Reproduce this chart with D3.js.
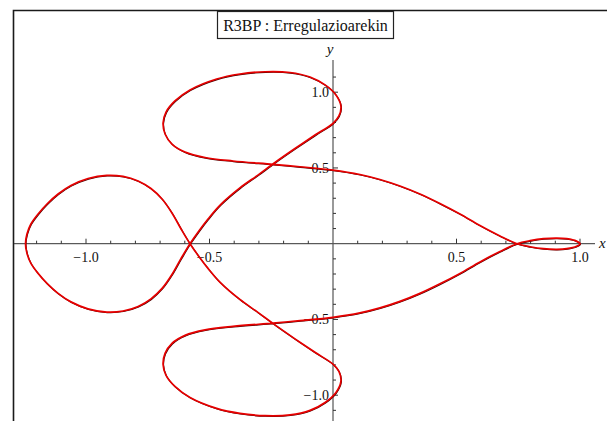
<!DOCTYPE html>
<html>
<head>
<meta charset="utf-8">
<script src="https://cdn.jsdelivr.net/npm/d3@7"></script>
<style>
  html, body { margin: 0; padding: 0; background: #fff; }
  svg { display: block; }
  text { font-family: "Liberation Serif", "Times New Roman", serif; }
</style>
</head>
<body>
<svg id="chart" width="607" height="421"></svg>
<script>
// Closed orbit of the regularized restricted three-body problem, traced in order:
// small loop, upper branch, upper loop, diagonal, left loop, lower loop, lower branch.
const orbitX = [
  1.000, 0.986, 0.946, 0.906, 0.852, 0.798, 0.745, 0.676, 0.595, 0.514, 0.433, 0.352,
  0.271, 0.190, 0.109, 0.000, -0.134, -0.243, -0.405, -0.518, -0.599, -0.652, -0.680,
  -0.688, -0.676, -0.640, -0.579, -0.471, -0.377, -0.275, -0.174, -0.093, -0.032, 0.012,
  0.032, 0.024, 0.000, -0.073, -0.154, -0.235, -0.304, -0.377, -0.457, -0.506, -0.543,
  -0.579, -0.615, -0.652, -0.692, -0.737, -0.789, -0.850, -0.916, -0.992, -1.061, -1.113,
  -1.158, -1.194, -1.223, -1.239, -1.245,
  -1.239, -1.223, -1.194, -1.158, -1.113, -1.061, -0.992, -0.916, -0.850, -0.789, -0.737,
  -0.692, -0.652, -0.615, -0.579, -0.543, -0.506, -0.457, -0.377, -0.304, -0.235, -0.154,
  -0.073, 0.000, 0.024, 0.032, 0.012, -0.032, -0.093, -0.174, -0.275, -0.377, -0.471,
  -0.579, -0.640, -0.676, -0.688, -0.680, -0.652, -0.599, -0.518, -0.405, -0.243, -0.134,
  0.000, 0.109, 0.190, 0.271, 0.352, 0.433, 0.514, 0.595, 0.676, 0.745, 0.798, 0.852,
  0.906, 0.946, 0.986
];
const orbitY = [
  0.000, -0.017, -0.033, -0.037, -0.033, -0.020, 0.000, 0.051, 0.120, 0.196, 0.265, 0.328,
  0.381, 0.424, 0.457, 0.486, 0.508, 0.524, 0.546, 0.569, 0.605, 0.658, 0.724,
  0.797, 0.869, 0.942, 1.015, 1.087, 1.120, 1.135, 1.130, 1.100, 1.048, 0.982,
  0.909, 0.843, 0.795, 0.717, 0.628, 0.536, 0.453, 0.368, 0.255, 0.163, 0.084,
  0.000, -0.097, -0.203, -0.295, -0.364, -0.414, -0.444, -0.451, -0.430, -0.384, -0.328,
  -0.262, -0.196, -0.130, -0.064, 0.000,
  0.064, 0.130, 0.196, 0.262, 0.328, 0.384, 0.430, 0.451, 0.444, 0.414, 0.364,
  0.295, 0.203, 0.097, 0.000, -0.084, -0.163, -0.255, -0.368, -0.453, -0.536, -0.628,
  -0.717, -0.795, -0.843, -0.909, -0.982, -1.048, -1.100, -1.130, -1.135, -1.120, -1.087,
  -1.015, -0.942, -0.869, -0.797, -0.724, -0.658, -0.605, -0.569, -0.546, -0.524, -0.508,
  -0.486, -0.457, -0.424, -0.381, -0.328, -0.265, -0.196, -0.120, -0.051, 0.000, 0.020, 0.033,
  0.037, 0.033, 0.017
];

const xTickValues = [-1.2, -1.1, -1.0, -0.9, -0.8, -0.7, -0.6, -0.5, -0.4, -0.3, -0.2, -0.1,
                     0.1, 0.2, 0.3, 0.4, 0.5, 0.6, 0.7, 0.8, 0.9, 1.0];
const xTickLabels = [-1.0, -0.5, 0.5, 1.0];
const yTickValues = [-1.1, -1.0, -0.9, -0.8, -0.7, -0.6, -0.5, -0.4, -0.3, -0.2, -0.1,
                     0.1, 0.2, 0.3, 0.4, 0.5, 0.6, 0.7, 0.8, 0.9, 1.0, 1.1];
const yTickLabels = [-1.0, -0.5, 0.5, 1.0];
const title = "R3BP : Erregulazioarekin";

const svg = d3.select("#chart");
const W = 607, H = 421;

const x = d3.scaleLinear().domain([0, 1]).range([333, 580]);
const y = d3.scaleLinear().domain([0, 1]).range([243.7, 92.2]);

const fmt = v => (v < 0 ? "\u2212" : "") + Math.abs(v).toFixed(1);
const isMajor = (list, d) => list.some(l => Math.abs(l - d) < 1e-9);

// frame
svg.append("path")
  .attr("d", `M13.5,${H} L13.5,10.5 L${W},10.5`)
  .attr("fill", "none").attr("stroke", "#1a1a1a").attr("stroke-width", 1.6);

// x axis
const gx = svg.append("g");
gx.append("line")
  .attr("x1", 14).attr("x2", 595)
  .attr("y1", y(0)).attr("y2", y(0))
  .attr("stroke", "#333").attr("stroke-width", 1);
gx.selectAll("line.tick").data(xTickValues).join("line")
  .attr("class", "tick")
  .attr("x1", d => x(d)).attr("x2", d => x(d))
  .attr("y1", y(0)).attr("y2", d => y(0) - (isMajor(xTickLabels, d) ? 5 : 3))
  .attr("stroke", "#333").attr("stroke-width", 1);
gx.selectAll("text").data(xTickLabels).join("text")
  .attr("x", d => x(d)).attr("y", y(0) + 18)
  .attr("text-anchor", "middle").attr("font-size", 14).attr("fill", "#111")
  .text(fmt);
svg.append("text").attr("x", 599).attr("y", y(0) + 4)
  .attr("font-size", 15).attr("font-style", "italic").attr("fill", "#111").text("x");

// y axis
const gy = svg.append("g");
gy.append("line")
  .attr("x1", x(0)).attr("x2", x(0))
  .attr("y1", 60).attr("y2", H)
  .attr("stroke", "#555").attr("stroke-width", 1.2);
gy.selectAll("line.tick").data(yTickValues).join("line")
  .attr("class", "tick")
  .attr("x1", x(0)).attr("x2", d => x(0) + (isMajor(yTickLabels, d) ? 5 : 3))
  .attr("y1", d => y(d)).attr("y2", d => y(d))
  .attr("stroke", "#333").attr("stroke-width", 1);
gy.selectAll("text").data(yTickLabels).join("text")
  .attr("x", x(0) - 4).attr("y", d => y(d) + 5)
  .attr("text-anchor", "end").attr("font-size", 14).attr("fill", "#111")
  .text(fmt);
svg.append("text").attr("x", x(0) - 3).attr("y", 54)
  .attr("text-anchor", "middle")
  .attr("font-size", 15).attr("font-style", "italic").attr("fill", "#111").text("y");

// orbit: thin dark edge under a red stroke
const pts = orbitX.map((v, i) => [v, orbitY[i]]);
const line = d3.line()
  .x(d => x(d[0])).y(d => y(d[1]))
  .curve(d3.curveCatmullRomClosed.alpha(0.5));
svg.append("path").datum(pts)
  .attr("d", line)
  .attr("fill", "none").attr("stroke", "#400000").attr("stroke-width", 1.1)
  .attr("transform", "translate(0.5,0.6)");
svg.append("path").datum(pts)
  .attr("d", line)
  .attr("fill", "none").attr("stroke", "#e60000").attr("stroke-width", 1.7);

// title box
const tg = svg.append("g");
tg.append("rect").attr("x", 217.5).attr("y", 11.5).attr("width", 176).attr("height", 27)
  .attr("fill", "#fff").attr("stroke", "#222").attr("stroke-width", 1.2);
tg.append("text").attr("x", 305.5).attr("y", 31)
  .attr("text-anchor", "middle").attr("font-size", 16).attr("fill", "#111")
  .text(title);
</script>
</body>
</html>
